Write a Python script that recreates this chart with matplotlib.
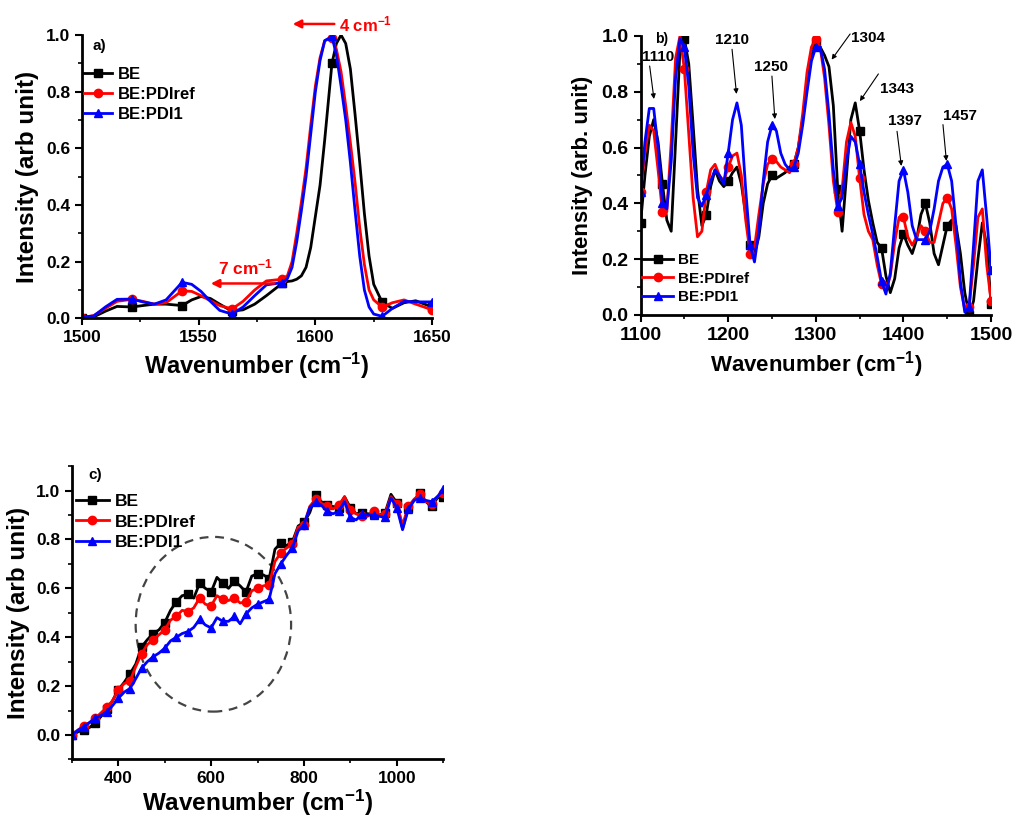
import numpy as np
import matplotlib
matplotlib.use("Agg")
import matplotlib.pyplot as plt
from matplotlib.patches import Ellipse
from matplotlib.ticker import MultipleLocator

plt.rcParams['font.family'] = ['Liberation Sans', 'DejaVu Sans']
plt.rcParams['font.weight'] = 'bold'
plt.rcParams['mathtext.default'] = 'regular'

labels = ["BE", "BE:PDIref", "BE:PDI1"]
colors = ["#000000", "#ff0000", "#0000ff"]
markers = ["s", "o", "^"]

# ---------------- panel a ----------------
wa = [1500, 1505, 1510, 1515, 1521.4, 1526, 1531, 1536, 1542.9, 1547, 1551, 1555, 1559,
      1564.3, 1569, 1574, 1579, 1585.7, 1588, 1590, 1592, 1594, 1596, 1598, 1600, 1602,
      1604, 1607.1, 1609, 1611, 1613, 1615, 1617, 1619, 1621, 1623, 1625, 1628.6, 1633,
      1638, 1643, 1650]
a_be = [0.0, 0.005, 0.025, 0.042, 0.04, 0.045, 0.05, 0.05, 0.045, 0.065, 0.077, 0.07, 0.05,
        0.025, 0.03, 0.05, 0.08, 0.123, 0.13, 0.132, 0.138, 0.15, 0.18, 0.25, 0.36, 0.47,
        0.63, 0.9, 0.97, 1.0, 0.97, 0.88, 0.72, 0.55, 0.37, 0.22, 0.12, 0.057, 0.035,
        0.055, 0.062, 0.04]
a_ref = [0.002, 0.01, 0.035, 0.06, 0.067, 0.06, 0.05, 0.055, 0.097, 0.095, 0.08, 0.062, 0.045,
         0.033, 0.06, 0.1, 0.132, 0.138, 0.15, 0.2, 0.3, 0.41, 0.53, 0.68, 0.82, 0.92,
         0.98, 0.99, 0.95, 0.87, 0.75, 0.62, 0.48, 0.32, 0.19, 0.1, 0.065, 0.04, 0.055,
         0.065, 0.05, 0.03]
a_pdi1 = [0.005, 0.008, 0.04, 0.067, 0.068, 0.058, 0.05, 0.065, 0.127, 0.12, 0.095, 0.06, 0.028,
          0.015, 0.04, 0.08, 0.118, 0.126, 0.14, 0.18, 0.27, 0.38, 0.5, 0.65, 0.8, 0.91,
          0.98, 0.995, 0.93, 0.82, 0.7, 0.55, 0.38, 0.22, 0.1, 0.04, 0.015, 0.007, 0.035,
          0.06, 0.058, 0.058]
a_marks = [0, 4, 8, 13, 17, 27, 37, 41]

# ---------------- panel b ----------------
wb = np.arange(1100, 1501, 5)
b_be = [0.33, 0.50, 0.64, 0.70, 0.62, 0.47, 0.34, 0.30, 0.62, 0.95,
        0.99, 0.90, 0.68, 0.45, 0.32, 0.36, 0.46, 0.52, 0.48, 0.46,
        0.48, 0.51, 0.53, 0.47, 0.36, 0.25, 0.22, 0.28, 0.40, 0.47,
        0.50, 0.49, 0.50, 0.51, 0.53, 0.54, 0.60, 0.70, 0.82, 0.93,
        0.97, 0.96, 0.93, 0.89, 0.75, 0.45, 0.30, 0.50, 0.70, 0.76,
        0.66, 0.52, 0.41, 0.33, 0.26, 0.24, 0.14, 0.08, 0.13, 0.24,
        0.29, 0.25, 0.22, 0.27, 0.36, 0.40, 0.33, 0.22, 0.18, 0.25,
        0.32, 0.34, 0.32, 0.22, 0.08, 0.0, 0.05, 0.20, 0.33, 0.25, 0.04]
b_ref = [0.44, 0.58, 0.68, 0.66, 0.52, 0.37, 0.37, 0.62, 0.92, 1.0,
         0.88, 0.65, 0.42, 0.28, 0.30, 0.44, 0.52, 0.54, 0.50, 0.48,
         0.53, 0.57, 0.58, 0.50, 0.34, 0.22, 0.24, 0.36, 0.47, 0.54,
         0.56, 0.55, 0.53, 0.52, 0.51, 0.54, 0.60, 0.72, 0.87, 0.96,
         0.99, 0.96, 0.85, 0.68, 0.48, 0.37, 0.45, 0.62, 0.69, 0.64,
         0.49, 0.36, 0.30, 0.27, 0.18, 0.11, 0.09, 0.14, 0.26, 0.35,
         0.35, 0.28, 0.25, 0.28, 0.32, 0.30, 0.26, 0.26, 0.33, 0.40,
         0.42, 0.38, 0.25, 0.10, 0.02, 0.03, 0.18, 0.35, 0.38, 0.18, 0.05]
b_pdi1 = [0.44, 0.62, 0.74, 0.74, 0.60, 0.40, 0.38, 0.55, 0.85, 0.99,
          0.96, 0.82, 0.58, 0.42, 0.39, 0.43, 0.48, 0.52, 0.50, 0.47,
          0.58, 0.70, 0.76, 0.68, 0.45, 0.25, 0.19, 0.30, 0.48, 0.62,
          0.68, 0.66, 0.58, 0.54, 0.52, 0.53, 0.58, 0.68, 0.80, 0.91,
          0.96, 0.96, 0.88, 0.72, 0.52, 0.39, 0.42, 0.55, 0.64, 0.62,
          0.54, 0.44, 0.36, 0.29, 0.21, 0.12, 0.075, 0.15, 0.32, 0.48,
          0.52, 0.44, 0.32, 0.27, 0.27, 0.27, 0.30, 0.38, 0.48, 0.53,
          0.54, 0.48, 0.32, 0.12, 0.01, 0.03, 0.25, 0.48, 0.52, 0.35, 0.16]
b_peaks = ["1110", "1210", "1250", "1304", "1343", "1397", "1457"]
b_text_xy = [(1120.5, 0.924), (1204.4, 0.986), (1248.9, 0.888), (1359.6, 0.993),
             (1392.6, 0.809), (1401.8, 0.694), (1464.5, 0.712)]
b_arrow_from = [(1110.0, 0.902), (1204.1, 0.962), (1249.7, 0.866), (1341.0, 1.015),
                (1373.2, 0.872), (1392.3, 0.668), (1444.8, 0.692)]
b_arrow_to = [(1115.7, 0.764), (1209.8, 0.782), (1253.5, 0.692), (1316.2, 0.907),
              (1348.5, 0.758), (1398.0, 0.524), (1449.3, 0.542)]

# ---------------- panel c ----------------
wc = np.arange(300, 1100.1, 12.5)
c_be = [0.0, 0.012, 0.022, 0.03, 0.048, 0.075, 0.105, 0.14, 0.185, 0.215,
        0.25, 0.29, 0.36, 0.39, 0.415, 0.43, 0.46, 0.51, 0.545, 0.57,
        0.575, 0.56, 0.62, 0.6, 0.585, 0.645, 0.62, 0.6, 0.63, 0.61,
        0.585, 0.65, 0.66, 0.655, 0.64, 0.76, 0.785, 0.775, 0.79, 0.855,
        0.87, 0.91, 0.98, 0.955, 0.94, 0.935, 0.93, 0.975, 0.93, 0.905,
        0.91, 0.905, 0.905, 0.9, 0.91, 0.985, 0.95, 0.845, 0.93, 0.96,
        0.99, 0.955, 0.935, 0.97, 0.975]
c_ref = [0.0, 0.02, 0.035, 0.05, 0.068, 0.09, 0.113, 0.14, 0.185, 0.21,
         0.22, 0.28, 0.333, 0.37, 0.39, 0.41, 0.43, 0.47, 0.485, 0.51,
         0.505, 0.52, 0.56, 0.535, 0.528, 0.57, 0.555, 0.55, 0.562, 0.54,
         0.545, 0.59, 0.6, 0.61, 0.615, 0.71, 0.745, 0.765, 0.78, 0.85,
         0.86, 0.935, 0.965, 0.948, 0.935, 0.925, 0.94, 0.975, 0.92, 0.905,
         0.895, 0.895, 0.915, 0.9, 0.905, 0.975, 0.945, 0.86, 0.935, 0.965,
         0.985, 0.955, 0.945, 0.975, 0.99]
c_pdi1 = [0.0, 0.018, 0.034, 0.05, 0.068, 0.08, 0.095, 0.12, 0.15, 0.175,
          0.19, 0.23, 0.273, 0.3, 0.32, 0.335, 0.355, 0.385, 0.4, 0.415,
          0.423, 0.44, 0.473, 0.45, 0.438, 0.48, 0.465, 0.465, 0.485, 0.455,
          0.495, 0.52, 0.535, 0.545, 0.555, 0.66, 0.7, 0.735, 0.765, 0.835,
          0.86, 0.93, 0.955, 0.94, 0.915, 0.905, 0.915, 0.955, 0.89, 0.88,
          0.905, 0.9, 0.9, 0.895, 0.89, 0.97, 0.93, 0.84, 0.925, 0.96,
          0.97, 0.96, 0.955, 0.975, 1.005]

fig = plt.figure(figsize=(10.19, 8.16), dpi=100)


def style_axes(ax, tsize=12.5):
    for s in ['top', 'right']:
        ax.spines[s].set_visible(False)
    for s in ['left', 'bottom']:
        ax.spines[s].set_linewidth(2)
    ax.tick_params(which='major', direction='out', length=5, width=1.5, labelsize=tsize)
    ax.tick_params(which='minor', direction='out', length=3, width=1.2)
    for lab in ax.get_xticklabels() + ax.get_yticklabels():
        lab.set_fontweight('bold')


def draw_series(ax, x, ys, mev, ms):
    for y, lab, col, mk in zip(ys, labels, colors, markers):
        ax.plot(x, y, color=col, lw=2, marker=mk, ms=ms, markevery=mev, label=lab)


# panel a
axa = fig.add_axes([0.0805, 0.6099, 0.3435, 0.3472])
draw_series(axa, wa, [a_be, a_ref, a_pdi1], a_marks, 6)
axa.set_xlim(1500, 1650)
axa.set_ylim(0, 1.0)
axa.xaxis.set_major_locator(MultipleLocator(50))
axa.xaxis.set_minor_locator(MultipleLocator(25))
axa.yaxis.set_major_locator(MultipleLocator(0.2))
axa.yaxis.set_minor_locator(MultipleLocator(0.1))
style_axes(axa, 12.5)
axa.set_xlabel("Wavenumber (cm$^{-1}$)", fontsize=17, fontweight='bold', labelpad=4)
axa.set_ylabel("Intensity (arb unit)", fontsize=17.5, fontweight='bold', labelpad=5)
axa.text(0.03, 0.96, "a)", transform=axa.transAxes, fontsize=11, fontweight='bold', va='center')
axa.legend(loc='upper left', bbox_to_anchor=(0.005, 0.888), frameon=False,
           handlelength=1.7, handletextpad=0.35, labelspacing=0.3, borderpad=0, borderaxespad=0,
           prop={'weight': 'bold', 'size': 12})
axa.annotate("", xy=(1589.1, 1.039), xytext=(1609.3, 1.039), annotation_clip=False,
             arrowprops=dict(arrowstyle='-|>', color='#ff0000', lw=1.8, mutation_scale=12))
axa.text(1610.3, 1.039, "4 cm$^{-1}$", color='#ff0000', fontsize=12, fontweight='bold',
         va='center', ha='left', clip_on=False)
axa.annotate("", xy=(1554, 0.123), xytext=(1583.6, 0.123),
             arrowprops=dict(arrowstyle='-|>', color='#ff0000', lw=1.8, mutation_scale=12))
axa.text(1570.3, 0.179, "7 cm$^{-1}$", color='#ff0000', fontsize=12.5, fontweight='bold',
         va='center', ha='center')

# panel b
axb = fig.add_axes([0.6286, 0.614, 0.344, 0.342])
draw_series(axb, wb, [b_be, b_ref, b_pdi1], 5, 6)
axb.set_xlim(1100, 1500)
axb.set_ylim(0, 1.0)
axb.xaxis.set_major_locator(MultipleLocator(100))
axb.xaxis.set_minor_locator(MultipleLocator(50))
axb.yaxis.set_major_locator(MultipleLocator(0.2))
axb.yaxis.set_minor_locator(MultipleLocator(0.1))
style_axes(axb, 14)
axb.set_xlabel("Wavenumber (cm$^{-1}$)", fontsize=16, fontweight='bold', labelpad=4)
axb.set_ylabel("Intensity (arb. unit)", fontsize=16, fontweight='bold', labelpad=6)
axb.text(0.04, 0.99, "b)", transform=axb.transAxes, fontsize=10, fontweight='bold', va='center')
for txt, (tx, ty), p0, p1 in zip(b_peaks, b_text_xy, b_arrow_from, b_arrow_to):
    axb.text(tx, ty, txt, fontsize=11, fontweight='bold', ha='center', va='center', clip_on=False)
    axb.annotate("", xy=p1, xytext=p0, annotation_clip=False,
                 arrowprops=dict(arrowstyle='-|>', color='k', lw=0.8, mutation_scale=7))
axb.legend(loc='upper left', bbox_to_anchor=(0.005, 0.222), frameon=False,
           handlelength=2.0, handletextpad=0.35, labelspacing=0.3, borderpad=0, borderaxespad=0,
           prop={'weight': 'bold', 'size': 11})

# panel c
axc = fig.add_axes([0.0706, 0.0694, 0.3643, 0.3593])
draw_series(axc, wc, [c_be, c_ref, c_pdi1], 2, 6)
axc.set_xlim(300, 1100)
axc.set_ylim(-0.1, 1.1)
axc.xaxis.set_major_locator(MultipleLocator(200))
axc.xaxis.set_minor_locator(MultipleLocator(100))
axc.yaxis.set_major_locator(MultipleLocator(0.2))
axc.yaxis.set_minor_locator(MultipleLocator(0.1))
style_axes(axc, 12.5)
axc.set_xlabel("Wavenumber (cm$^{-1}$)", fontsize=17.5, fontweight='bold', labelpad=1)
axc.set_ylabel("Intensity (arb unit)", fontsize=17.5, fontweight='bold', labelpad=4)
axc.text(0.045, 0.97, "c)", transform=axc.transAxes, fontsize=11, fontweight='bold', va='center')
axc.add_patch(Ellipse((604.8, 0.453), 335, 0.715, fill=False, ls=(0, (4, 3)),
                      lw=1.6, edgecolor='#444444'))
axc.legend(loc='upper left', bbox_to_anchor=(0.01, 0.905), frameon=False,
           handlelength=1.9, handletextpad=0.35, labelspacing=0.3, borderpad=0, borderaxespad=0,
           prop={'weight': 'bold', 'size': 12.5})

fig.savefig("out.png", dpi=100)
